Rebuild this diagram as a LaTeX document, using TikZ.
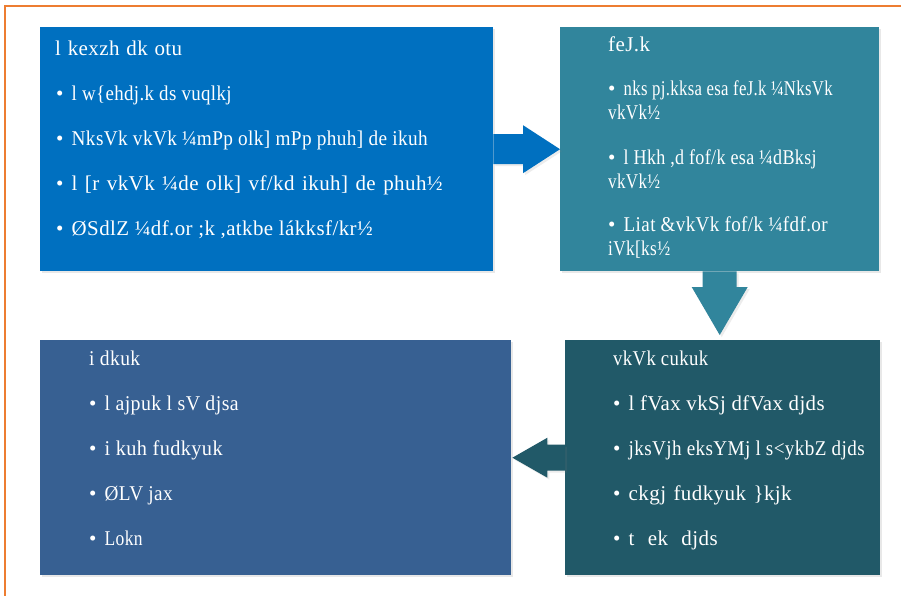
\documentclass[tikz,border=0pt]{standalone}
\usepackage{fontspec}
\usepackage{graphicx}
\setmainfont{Liberation Serif}
\newfontfamily\panelfont[LetterSpace=2.0]{Liberation Serif}
\usetikzlibrary{calc,shadows}
\definecolor{frameorange}{HTML}{ED7D31}
\definecolor{boxblue}{HTML}{0070C0}
\definecolor{boxteal}{HTML}{31859C}
\definecolor{boxslate}{HTML}{376092}
\definecolor{boxdark}{HTML}{215968}
\tikzset{
  panel/.style={draw=none, anchor=north west, inner sep=0pt,
    drop shadow={opacity=0.18, shadow xshift=2pt, shadow yshift=-2pt}},
  blockarrow/.style={draw=none,
    drop shadow={opacity=0.15, shadow xshift=2pt, shadow yshift=-2pt}},
  txt/.style={text=white, anchor=base west, inner sep=0pt,
    font=\panelfont\fontsize{21}{25}\selectfont},
}
% set a line to a given width: spread the word gaps, or condense if too long
\newsavebox{\fitbox}
\newcommand{\fitto}[2]{%
  \sbox{\fitbox}{#2}%
  \ifdim\wd\fitbox>#1pt
    \pgfmathsetmacro\fitratio{#1/\the\wd\fitbox}%
    \scalebox{\fitratio}[1]{\usebox{\fitbox}}%
  \else
    \hbadness=10000 \makebox[#1pt][s]{#2}%
  \fi}
% bulleted line: fixed bullet column, then the text fitted to its width
\newcommand{\bulline}[2]{\makebox[15.5pt][l]{\textbullet}\fitto{#1}{#2}}
\begin{document}
\begin{tikzpicture}[x=1pt,y=-1pt]
\useasboundingbox (0,0) rectangle (901,595);
\fill[white] (0,0) rectangle (901,595);
% outer frame
\draw[frameorange, line width=2pt] (905,6) -- (4.5,6) -- (4.5,600);

% panels
\node[panel, fill=boxblue, minimum width=453pt, minimum height=244pt] (b1) at (40,27) {};
\node[panel, fill=boxteal, minimum width=319pt, minimum height=244pt] (b2) at (560,27) {};
\node[panel, fill=boxslate, minimum width=471pt, minimum height=235pt] (b3) at (40,340) {};
\node[panel, fill=boxdark, minimum width=315pt, minimum height=235pt] (b4) at (565,340) {};

% block arrows between panels
\fill[boxblue, blockarrow]
  ($(b1.east)+(0,-15)$) -- ($(b2.west)+(-37,-15)$) -- ($(b2.west)+(-37,-24)$)
  -- (b2.west) -- ($(b2.west)+(-37,24)$) -- ($(b2.west)+(-37,15)$)
  -- ($(b1.east)+(0,15)$) -- cycle;
\coordinate (a2tip) at ($(b2.south |- b4.north)+(0,-5)$);
\fill[boxteal, blockarrow]
  ($(b2.south)+(-17,0)$) -- ($(a2tip)+(-17,-48)$) -- ($(a2tip)+(-28,-48)$)
  -- (a2tip) -- ($(a2tip)+(28,-48)$) -- ($(a2tip)+(17,-48)$)
  -- ($(b2.south)+(17,0)$) -- cycle;
\coordinate (a3tip) at ($(b3.east)+(1,0)$);
\fill[boxdark, blockarrow]
  ($(b4.west)+(0,-13)$) -- ($(a3tip)+(35,-13)$) -- ($(a3tip)+(35,-20)$)
  -- (a3tip) -- ($(a3tip)+(35,20)$) -- ($(a3tip)+(35,13)$)
  -- ($(b4.west)+(0,13)$) -- cycle;

% panel 1 text
\node[txt] (p1t) at (55,55) {\fitto{127}{l kexzh dk otu}};
\node[txt] (p1a) at (56,100) {\bulline{160}{l w\{ehdj.k ds vuqlkj}};
\node[txt] (p1b) at (56,145) {\bulline{356}{NksVk vkVk ¼mPp olk] mPp phuh] de ikuh}};
\node[txt] (p1c) at (56,190) {\bulline{371}{l [r vkVk ¼de olk] vf/kd ikuh] de phuh½}};
\node[txt] (p1d) at (56,235) {\bulline{301}{ØSdlZ ¼df.or ;k ,atkbe lákksf/kr½}};

% panel 2 text
\node[txt] (p2t) at (608,51) {\fitto{49}{feJ.k}};
\node[txt] (p2a) at (608,95) {\bulline{209}{nks pj.kksa esa feJ.k ¼NksVk}};
\node[txt] (p2a2) at (608,119) {\fitto{52}{vkVk½}};
\node[txt] (p2b) at (608,164) {\bulline{193}{l Hkh ,d fof/k esa ¼dBksj}};
\node[txt] (p2b2) at (608,188) {\fitto{52}{vkVk½}};
\node[txt] (p2c) at (608,231) {\bulline{204}{Liat \&vkVk fof/k ¼fdf.or}};
\node[txt] (p2c2) at (608,255) {\fitto{62}{iVk[ks½}};

% panel 3 text
\node[txt] (p3t) at (89,365) {\fitto{51}{i dkuk}};
\node[txt] (p3a) at (89,410) {\bulline{134}{l ajpuk l sV djsa}};
\node[txt] (p3b) at (89,455) {\bulline{118}{i kuh fudkyuk}};
\node[txt] (p3c) at (89,500) {\bulline{68}{ØLV jax}};
\node[txt] (p3d) at (89,545) {\bulline{38}{Lokn}};

% panel 4 text
\node[txt] (p4t) at (613,365) {\fitto{95}{vkVk cukuk}};
\node[txt] (p4a) at (613,410) {\bulline{196}{l fVax vkSj dfVax djds}};
\node[txt] (p4b) at (613,455) {\bulline{236}{jksVjh eksYMj l s<ykbZ djds}};
\node[txt] (p4c) at (613,500) {\bulline{163}{ckgj fudkyuk \}kjk}};
\node[txt] (p4d) at (613,545) {\bulline{89}{t ek djds}};
\end{tikzpicture}
\end{document}
